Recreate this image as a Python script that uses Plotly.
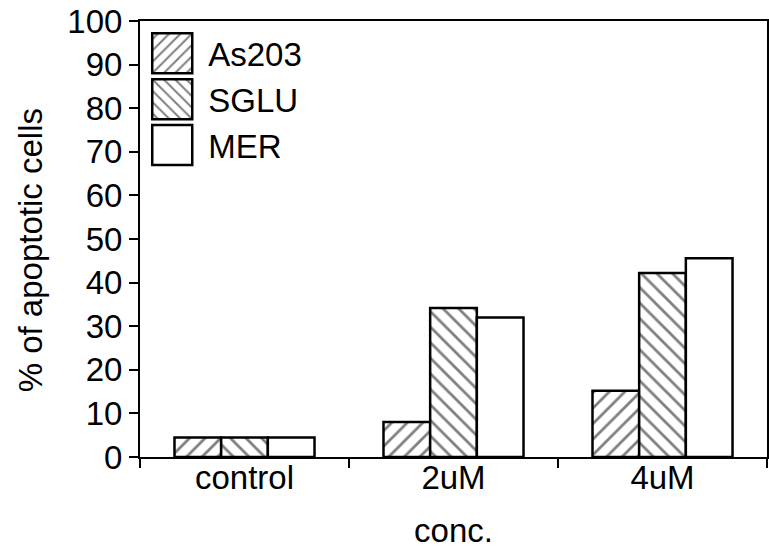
import plotly.graph_objects as go

categories = ["control", "2uM", "4uM"]
as203 = [4.5, 8.0, 15.2]
sglu = [4.5, 34.2, 42.2]
mer = [4.5, 32.0, 45.6]
y_ticks = list(range(0, 101, 10))

FONT = "Liberation Sans, Arial, sans-serif"

fig = go.Figure()
series = [("As203", as203, "/"), ("SGLU", sglu, "\\"), ("MER", mer, "")]
for name, vals, shape in series:
    fig.add_trace(go.Bar(
        name=name, x=categories, y=vals,
        marker=dict(color="white",
                    line=dict(color="black", width=2.5),
                    pattern=dict(shape=shape, fgcolor="black", bgcolor="white",
                                 size=11, solidity=0.25)),
    ))

fig.update_layout(
    width=769, height=560,
    margin=dict(l=140, r=0, t=21, b=103),
    paper_bgcolor="white", plot_bgcolor="white",
    font=dict(family=FONT, size=33, color="black"),
    barmode="group", bargap=0.33, bargroupgap=0,
    showlegend=True,
    legend=dict(x=-0.006, y=0.99, xanchor="left", yanchor="top",
                bgcolor="rgba(0,0,0,0)", borderwidth=0,
                font=dict(family=FONT, size=33, color="black"),
                itemwidth=62, tracegroupgap=0),
    xaxis=dict(range=[-0.5, 2.5], showline=True, linecolor="black", linewidth=2,
               mirror=True, ticks="outside", tickson="boundaries", ticklen=9,
               tickwidth=2, tickcolor="black", showgrid=False,
               ticklabelstandoff=-10,
               title=dict(text="conc.", standoff=24,
                          font=dict(family=FONT, size=33, color="black"))),
    yaxis=dict(range=[0, 100], tickvals=y_ticks, showline=True, linecolor="black",
               linewidth=2, mirror=True, ticks="outside", ticklen=9, tickwidth=2,
               tickcolor="black", showgrid=False, zeroline=False),
    annotations=[dict(text="% of apoptotic cells", xref="paper", yref="paper",
                      x=(30 - 140) / 629, y=(457 - 250) / 436, textangle=-90,
                      showarrow=False, xanchor="center", yanchor="middle",
                      font=dict(family=FONT, size=33, color="black"))],
)

post = """
document.body.style.margin = '0';
document.body.style.overflow = 'hidden';
function bigLegend(){
  document.querySelectorAll('g.legendpoints path').forEach(function(p){
    p.setAttribute('d','M20,20H-20V-20H20Z');
  });
}
bigLegend(); setTimeout(bigLegend, 50); setTimeout(bigLegend, 300);
"""
fig.write_html("out.html", post_script=post, config={"displayModeBar": False})
